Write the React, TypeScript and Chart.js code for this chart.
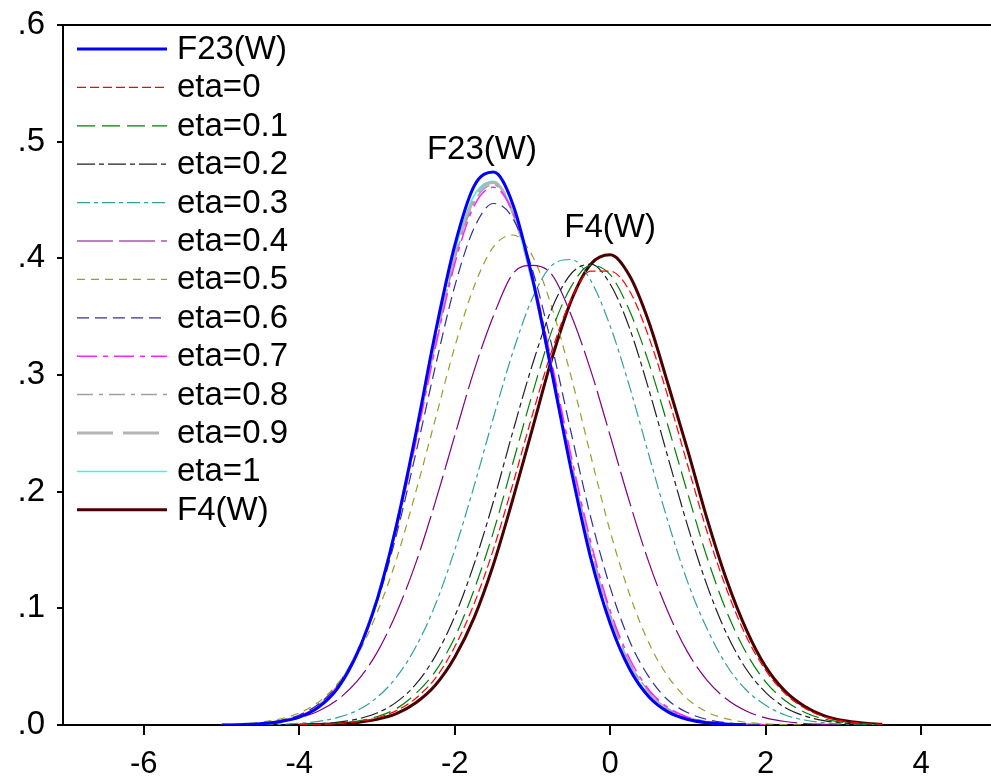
import React, { useEffect, useRef } from 'react';
import { Chart, registerables } from 'chart.js';
Chart.register(...registerables);

const xGrid = [-5, -4.75, -4.5, -4.25, -4, -3.75, -3.5, -3.25, -3, -2.75, -2.5, -2.25, -2, -1.75, -1.5, -1.25, -1, -0.75, -0.5, -0.25, 0, 0.25, 0.5, 0.75, 1, 1.25, 1.5, 1.75, 2, 2.25, 2.5, 2.75, 3, 3.25, 3.5];

const f23 = [0.0, 0.0003, 0.001, 0.0028, 0.0067, 0.0153, 0.032, 0.062, 0.107, 0.171, 0.25, 0.336, 0.411, 0.462, 0.474, 0.446, 0.383, 0.302, 0.218, 0.143, 0.087, 0.048, 0.024, 0.011, 0.0047, 0.0019, 0.0007, 0.0002, null, null, null, null, null, null, null];
const eta00 = [null, null, null, null, 0.0002, 0.0005, 0.0013, 0.0029, 0.0062, 0.0123, 0.023, 0.04, 0.067, 0.104, 0.151, 0.207, 0.266, 0.321, 0.365, 0.389, 0.389, 0.372, 0.332, 0.28, 0.222, 0.165, 0.116, 0.076, 0.047, 0.027, 0.0145, 0.0072, 0.0034, 0.0015, 0.0006];
const eta01 = [null, null, null, null, 0.0002, 0.0006, 0.0015, 0.0034, 0.0072, 0.014, 0.027, 0.046, 0.075, 0.116, 0.166, 0.225, 0.284, 0.338, 0.376, 0.394, 0.386, 0.355, 0.31, 0.255, 0.198, 0.143, 0.097, 0.062, 0.037, 0.021, 0.011, 0.0052, 0.0023, 0.001, 0.0004];
const eta02 = [null, null, null, null, 0.0004, 0.001, 0.0024, 0.0051, 0.0103, 0.0196, 0.035, 0.059, 0.093, 0.138, 0.192, 0.252, 0.309, 0.357, 0.387, 0.395, 0.378, 0.34, 0.287, 0.228, 0.17, 0.119, 0.078, 0.048, 0.028, 0.015, 0.0078, 0.0038, 0.0017, 0.0007, 0.0003];
const eta03 = [null, null, 0.0002, 0.0006, 0.0014, 0.0031, 0.0065, 0.0126, 0.0236, 0.041, 0.067, 0.103, 0.15, 0.205, 0.264, 0.32, 0.366, 0.394, 0.399, 0.381, 0.342, 0.29, 0.231, 0.173, 0.122, 0.082, 0.051, 0.03, 0.017, 0.0086, 0.0043, 0.002, 0.0009, 0.0004, 0.0001];
const eta04 = [0.0002, 0.0006, 0.0013, 0.003, 0.0061, 0.012, 0.022, 0.038, 0.062, 0.096, 0.139, 0.191, 0.248, 0.304, 0.351, 0.387, 0.394, 0.386, 0.351, 0.304, 0.248, 0.191, 0.139, 0.096, 0.062, 0.038, 0.022, 0.012, 0.0061, 0.003, 0.0013, 0.0006, 0.0002, null, null];
const eta05 = [0.0004, 0.001, 0.0024, 0.0051, 0.0104, 0.0198, 0.036, 0.06, 0.096, 0.142, 0.2, 0.262, 0.324, 0.376, 0.41, 0.42, 0.402, 0.358, 0.298, 0.231, 0.166, 0.112, 0.07, 0.041, 0.022, 0.011, 0.0053, 0.0023, 0.001, 0.0004, 0.0001, null, null, null, null];
const eta06 = [0.0002, 0.0006, 0.0015, 0.0038, 0.0086, 0.018, 0.035, 0.063, 0.105, 0.163, 0.233, 0.307, 0.376, 0.426, 0.447, 0.434, 0.39, 0.325, 0.25, 0.178, 0.118, 0.072, 0.041, 0.021, 0.0105, 0.0047, 0.0019, 0.0007, 0.0002, null, null, null, null, null, null];
const eta07 = [0.0001, 0.0004, 0.0012, 0.0032, 0.0076, 0.0166, 0.034, 0.062, 0.107, 0.168, 0.243, 0.323, 0.395, 0.445, 0.461, 0.439, 0.385, 0.31, 0.23, 0.157, 0.098, 0.057, 0.03, 0.0148, 0.0066, 0.0028, 0.0011, 0.0004, 0.0001, null, null, null, null, null, null];
const eta08 = [0.0001, 0.0004, 0.0012, 0.0031, 0.0075, 0.0166, 0.0337, 0.0626, 0.107, 0.169, 0.246, 0.326, 0.399, 0.448, 0.463, 0.439, 0.383, 0.307, 0.226, 0.153, 0.095, 0.054, 0.0286, 0.0138, 0.0062, 0.0025, 0.0009, 0.0003, 0.0001, null, null, null, null, null, null];
const eta09 = [0.0001, 0.0004, 0.0012, 0.0031, 0.0074, 0.0165, 0.0336, 0.063, 0.108, 0.171, 0.248, 0.329, 0.402, 0.451, 0.465, 0.439, 0.381, 0.303, 0.222, 0.149, 0.092, 0.052, 0.027, 0.0128, 0.0056, 0.0023, 0.0008, 0.0003, 0.0001, null, null, null, null, null, null];
const eta10 = [0.0001, 0.0004, 0.0011, 0.003, 0.0074, 0.0164, 0.0336, 0.063, 0.109, 0.172, 0.25, 0.333, 0.406, 0.454, 0.466, 0.439, 0.379, 0.3, 0.218, 0.145, 0.088, 0.05, 0.0256, 0.012, 0.0052, 0.0021, 0.0007, 0.0002, 0.0001, null, null, null, null, null, null];
const f4 = [null, null, null, null, 0.0001, 0.0004, 0.001, 0.0022, 0.0048, 0.0097, 0.019, 0.034, 0.058, 0.092, 0.138, 0.194, 0.254, 0.314, 0.364, 0.395, 0.403, 0.385, 0.345, 0.291, 0.235, 0.176, 0.124, 0.082, 0.05, 0.029, 0.016, 0.008, 0.0038, 0.0017, 0.0006];

const seriesLabels = ['F23(W)', 'eta=0', 'eta=0.1', 'eta=0.2', 'eta=0.3', 'eta=0.4', 'eta=0.5', 'eta=0.6', 'eta=0.7', 'eta=0.8', 'eta=0.9', 'eta=1', 'F4(W)'];
const seriesValues = [f23, eta00, eta01, eta02, eta03, eta04, eta05, eta06, eta07, eta08, eta09, eta10, f4];

const xTicks = [-6, -4, -2, 0, 2, 4];
const yTicks = [0, 0.1, 0.2, 0.3, 0.4, 0.5, 0.6];

const annotations = [
  { text: 'F23(W)', x: -1.65, y: 0.493 },
  { text: 'F4(W)', x: 0.0, y: 0.426 },
];

const styles = [
  { color: '#0000FF', width: 3, dash: [] },
  { color: '#FF0000', width: 1.2, dash: [9, 4] },
  { color: '#008000', width: 1.2, dash: [18, 7] },
  { color: '#202020', width: 1.2, dash: [18, 4, 5, 4] },
  { color: '#2fa0a0', width: 1.2, dash: [13, 4, 4, 4] },
  { color: '#800080', width: 1.2, dash: [36, 6] },
  { color: '#9c9c28', width: 1.2, dash: [8, 6] },
  { color: '#303098', width: 1.2, dash: [12, 6] },
  { color: '#ff22ff', width: 1.5, dash: [20, 6, 5, 6] },
  { color: '#a0a0a0', width: 1.5, dash: [16, 6, 4, 6] },
  { color: '#b4b4b4', width: 3, dash: [36, 10] },
  { color: '#40f0f0', width: 1.5, dash: [] },
  { color: '#4a0000', width: 3, dash: [] },
];

const FONT = "'Liberation Sans', Arial, sans-serif";

export default function App() {
  const ref = useRef<HTMLCanvasElement>(null);
  useEffect(() => {
    document.body.style.margin = '0';
    const canvas = ref.current;
    if (!canvas) return;

    const overlay = {
      id: 'overlay',
      afterDatasetsDraw(chart: any) {
        const ctx = chart.ctx;
        const area = chart.chartArea;
        const xs = chart.scales.x;
        const ys = chart.scales.y;
        ctx.save();
        ctx.strokeStyle = '#000';
        ctx.lineWidth = 2;
        ctx.beginPath();
        ctx.moveTo(area.left, area.top);
        ctx.lineTo(area.right, area.top);
        ctx.stroke();
        ctx.fillStyle = '#000';
        ctx.font = `33px ${FONT}`;
        ctx.textAlign = 'center';
        ctx.textBaseline = 'middle';
        annotations.forEach((a) => {
          ctx.fillText(a.text, xs.getPixelForValue(a.x), ys.getPixelForValue(a.y));
        });
        ctx.textAlign = 'left';
        chart.data.datasets.forEach((ds: any, i: number) => {
          const y = area.top + 24 + i * 38.4;
          ctx.strokeStyle = ds.borderColor;
          ctx.lineWidth = ds.borderWidth;
          ctx.setLineDash(ds.borderDash || []);
          ctx.beginPath();
          ctx.moveTo(area.left + 14, y);
          ctx.lineTo(area.left + 104, y);
          ctx.stroke();
          ctx.setLineDash([]);
          ctx.fillStyle = '#000';
          ctx.fillText(ds.label, area.left + 114, y + 1);
        });
        ctx.restore();
      },
    };

    const chart = new Chart(canvas, {
      type: 'line',
      data: {
        datasets: seriesValues.map((vals, i) => ({
          label: seriesLabels[i],
          data: xGrid.map((x, j) => ({ x, y: vals[j] })),
          borderColor: styles[i].color,
          borderWidth: styles[i].width,
          borderDash: styles[i].dash,
          pointRadius: 0,
          fill: false,
          cubicInterpolationMode: 'monotone',
          spanGaps: false,
        })),
      },
      options: {
        responsive: false,
        animation: false,
        layout: { padding: { top: 25, right: 0, left: 0, bottom: 0 } },
        scales: {
          x: {
            type: 'linear',
            min: -7.04,
            max: 4.9,
            afterBuildTicks: (s: any) => {
              s.ticks = xTicks.map((v) => ({ value: v }));
            },
            afterFit: (s: any) => {
              s.height = 53;
            },
            ticks: {
              color: '#000',
              font: { family: FONT, size: 31 },
              padding: 11,
              maxRotation: 0,
              autoSkip: false,
              callback: (v: any) => String(v),
            },
            grid: { drawOnChartArea: false, drawTicks: true, tickLength: 10, color: '#000', lineWidth: 2 },
            border: { color: '#000', width: 2 },
          },
          y: {
            type: 'linear',
            min: 0,
            max: 0.6,
            afterBuildTicks: (s: any) => {
              s.ticks = yTicks.map((v) => ({ value: v }));
            },
            afterFit: (s: any) => {
              s.width = 63;
            },
            ticks: {
              color: '#000',
              font: { family: FONT, size: 33, lineHeight: 0.75 },
              padding: 12,
              autoSkip: false,
              callback: (v: any) => Number(v).toFixed(1).replace(/^0/, ''),
            },
            grid: { drawOnChartArea: false, drawTicks: true, tickLength: 6, color: '#000', lineWidth: 2 },
            border: { color: '#000', width: 2 },
          },
        },
        plugins: { legend: { display: false }, tooltip: { enabled: false } },
      },
      plugins: [overlay],
    } as any);
    return () => chart.destroy();
  }, []);
  return <canvas ref={ref} width={991} height={778} style={{ display: 'block' }} />;
}
